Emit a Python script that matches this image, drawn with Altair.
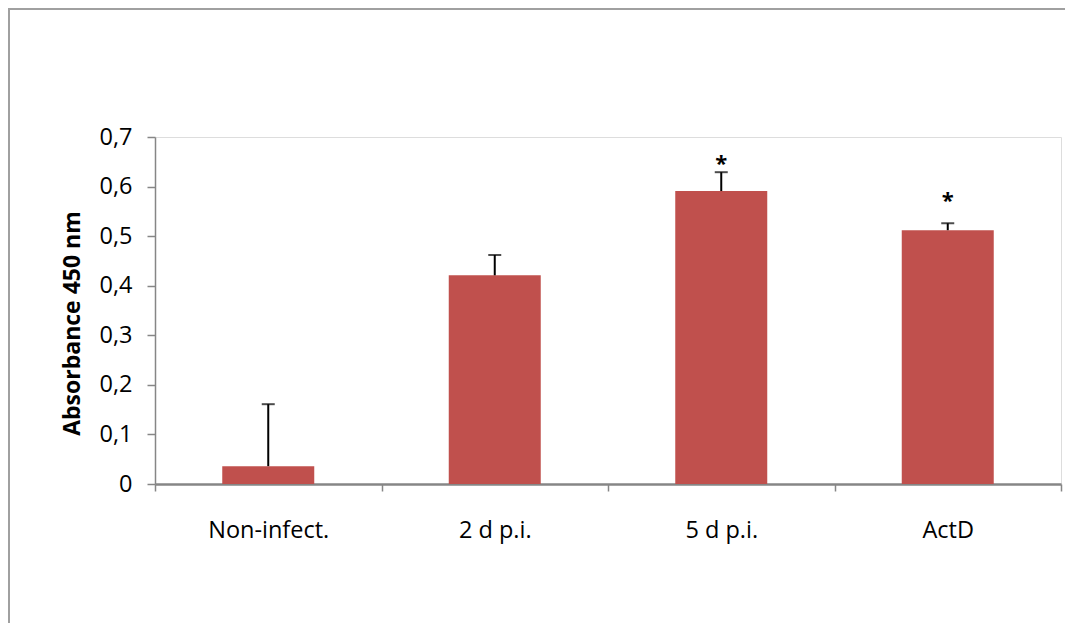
import altair as alt
import pandas as pd

categories = ["Non-infect.", "2 d p.i.", "5 d p.i.", "ActD"]
means = [0.036, 0.421, 0.591, 0.512]
err_upper = [0.161, 0.462, 0.629, 0.526]
stars = ["", "", "*", "*"]
star_pos = [None, None, 0.655, 0.581]

df = pd.DataFrame({"cat": categories, "mean": means, "err": err_upper,
                   "star": stars, "star_y": star_pos})

FONT = "Open Sans"
GRAY = "#868686"

x = alt.X("cat:N", sort=categories, title=None,
          scale=alt.Scale(paddingInner=0, paddingOuter=0),
          axis=alt.Axis(labelAngle=0, tickBand="extent", domainColor=GRAY,
                        domainWidth=2.5, tickColor=GRAY, tickWidth=1.5, tickSize=7,
                        labelPadding=27, labelFontSize=23.5, labelFont=FONT,
                        labelColor="#000000"))

y = alt.Y("mean:Q", title="Absorbance 450 nm",
          scale=alt.Scale(domain=[0, 0.7], nice=False),
          axis=alt.Axis(values=[0, 0.1, 0.2, 0.3, 0.4, 0.5, 0.6, 0.7],
                        labelExpr="datum.value == 0 ? '0' : replace(format(datum.value, '.1f'), '.', ',')",
                        grid=False, domainColor=GRAY, domainWidth=1.5,
                        tickColor=GRAY, tickWidth=1.5, tickSize=8, labelPadding=15,
                        labelFontSize=23.5, labelFont=FONT, labelColor="#000000",
                        titleFont=FONT, titleFontSize=23, titleFontWeight="bold",
                        titleColor="#000000", titleAngle=-90, titleAlign="center",
                        titleBaseline="middle", titleX=-83, titleY=186))

base = alt.Chart(df)

bars = base.mark_bar(color="#C0504D", width=92).encode(x=x, y=y)

err_line = base.mark_rule(color="#000000", strokeWidth=2).encode(
    x=alt.X("cat:N", sort=categories), y="mean:Q", y2="err:Q")
err_cap = base.mark_tick(color="#000000", thickness=2, size=13).encode(
    x=alt.X("cat:N", sort=categories), y="err:Q")

star_text = base.transform_filter("datum.star != ''").mark_text(
    font=FONT, fontSize=22, fontWeight="bold", color="#000000",
    baseline="middle", dy=5).encode(
    x=alt.X("cat:N", sort=categories), y="star_y:Q", text="star:N")

border_top = base.transform_filter("datum.cat == 'ActD'").mark_rule(
    color="#A0A0A0", strokeWidth=2, clip=False).encode(
    x=alt.value(-147), x2=alt.value(915), y=alt.value(-128))
border_left = base.transform_filter("datum.cat == 'ActD'").mark_rule(
    color="#A0A0A0", strokeWidth=2, clip=False).encode(
    x=alt.value(-146), y=alt.value(-128), y2=alt.value(495))

chart = alt.layer(border_top, border_left, bars, err_line, err_cap, star_text).properties(
    width=906, height=347,
    padding={"left": 147, "top": 129, "right": 4, "bottom": 139},
    autosize=alt.AutoSizeParams(type="none"),
).configure_view(stroke=None).configure(background="#FFFFFF")

chart.save("out.html", embed_options={"renderer": "svg", "actions": False})
